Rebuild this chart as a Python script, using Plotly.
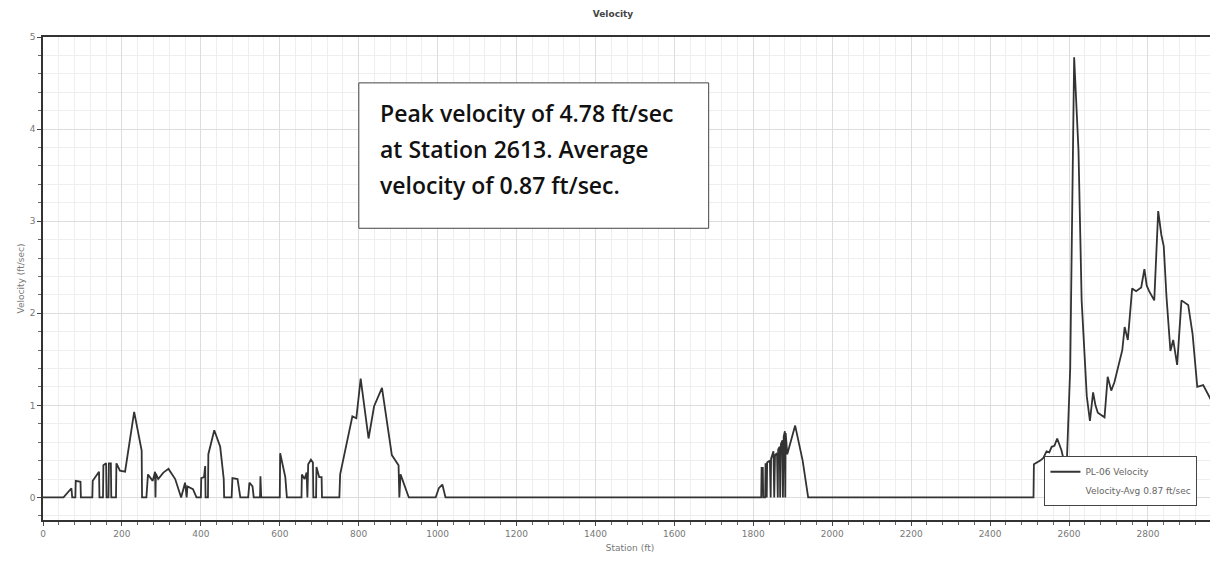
import plotly.graph_objects as go

# Data
station = [0, 52, 72, 74, 82, 83, 95, 96, 125, 126, 142, 143, 152, 153, 160, 161, 166, 167, 172, 173,
           185, 186, 195, 208, 231, 250, 251, 262, 266, 278, 284, 285, 286, 292, 305, 318, 335, 350,
           360, 364, 366, 380, 389, 400, 401, 408, 411, 412, 418, 419, 434, 449, 458, 459, 478, 480,
           493, 500, 520, 523, 531, 534, 550, 551, 553, 600, 601, 614, 618, 655, 656, 663, 668, 670,
           672, 679, 684, 685, 692, 693, 700, 706, 707, 751, 753, 784, 794, 805, 825, 839, 859, 884,
           901, 903, 906, 927, 995, 1003, 1012, 1018, 1020, 1820, 1821, 1824, 1825, 1830, 1831, 1834,
           1835, 1842, 1844, 1845, 1851, 1853, 1855, 1860, 1862, 1863, 1867, 1868, 1870, 1874, 1875,
           1877, 1880, 1881, 1882, 1886, 1888, 1906, 1925, 1939, 2510, 2511, 2527, 2535, 2543, 2550,
           2556, 2563, 2570, 2576, 2581, 2587, 2594, 2603, 2613, 2624, 2632, 2645, 2653, 2661, 2667,
           2673, 2690, 2698, 2707, 2715, 2728, 2735, 2741, 2749, 2760, 2770, 2783, 2791, 2797, 2803,
           2816, 2826, 2834, 2840, 2847, 2857, 2864, 2874, 2885, 2902, 2913, 2925, 2940, 2961, 2972,
           2975]
velocity = [0, 0, 0.10, 0, 0, 0.18, 0.17, 0, 0, 0.18, 0.28, 0, 0, 0.35, 0.37, 0, 0, 0.37, 0.37, 0,
            0, 0.37, 0.29, 0.28, 0.93, 0.51, 0, 0, 0.25, 0.18, 0.28, 0, 0.26, 0.20, 0.27, 0.31, 0.20, 0,
            0.16, 0, 0.12, 0.09, 0, 0, 0.21, 0.22, 0.34, 0, 0, 0.47, 0.73, 0.55, 0.20, 0, 0, 0.21,
            0.20, 0, 0, 0.16, 0.12, 0, 0, 0.23, 0, 0, 0.48, 0.22, 0, 0, 0.25, 0.20, 0.27, 0,
            0.36, 0.41, 0.38, 0, 0, 0.33, 0.22, 0.22, 0, 0, 0.25, 0.88, 0.86, 1.29, 0.64, 0.99, 1.19, 0.46,
            0.35, 0, 0.25, 0, 0, 0.10, 0.14, 0.05, 0, 0, 0.32, 0.32, 0, 0, 0.37, 0,
            0.38, 0.40, 0, 0.42, 0.50, 0, 0.46, 0.48, 0, 0.52, 0.55, 0, 0.58, 0.62, 0,
            0.66, 0.72, 0, 0.70, 0.47, 0.50, 0.78, 0.40, 0, 0, 0.36, 0.40, 0.43, 0.50, 0.49,
            0.55, 0.56, 0.64, 0.58, 0.51, 0.40, 0.33, 1.40, 4.78, 3.77, 2.14, 1.10, 0.83, 1.14, 1.00,
            0.92, 0.87, 1.31, 1.16, 1.25, 1.49, 1.60, 1.85, 1.71, 2.27, 2.24, 2.28, 2.48, 2.30, 2.24,
            2.14, 3.11, 2.85, 2.73, 2.18, 1.59, 1.71, 1.44, 2.14, 2.09, 1.78, 1.20, 1.22, 1.05, 0.74,
            0]
avg_velocity = 0.87
series_name = "PL-06 Velocity"
avg_name = "Velocity-Avg 0.87 ft/sec"
x_ticks = [0, 200, 400, 600, 800, 1000, 1200, 1400, 1600, 1800, 2000, 2200, 2400, 2600, 2800]
y_ticks = [0, 1, 2, 3, 4, 5]
note_lines = ["Peak velocity of 4.78 ft/sec", "at Station 2613. Average", "velocity of 0.87 ft/sec."]

fig = go.Figure()
fig.add_trace(go.Scatter(x=station, y=velocity, mode="lines", name=series_name,
                         line=dict(color="#333333", width=1.8)))
fig.add_trace(go.Scatter(x=[None], y=[None], mode="lines", name=avg_name,
                         line=dict(color="rgba(0,0,0,0)", width=1.5)))

axis_font = dict(family="DejaVu Sans", size=9, color="#777777")
fig.update_layout(
    width=1210, height=545,
    margin=dict(l=35, r=1, t=29, b=33),
    paper_bgcolor="white", plot_bgcolor="white",
    title=dict(text="<b>Velocity</b>", x=0.5, xanchor="center", y=1 - 6 / 545, yanchor="middle",
               yref="container", automargin=False,
               font=dict(family="DejaVu Sans", size=9, color="#444444")),
    showlegend=True,
    legend=dict(x=0.853, y=0.132, xanchor="left", yanchor="top",
                bgcolor="white", bordercolor="#444444", borderwidth=1,
                font=dict(family="DejaVu Sans", size=9, color="#666666"),
                tracegroupgap=0, itemwidth=30),
    xaxis=dict(range=[0, 2975], tickvals=x_ticks, ticks="outside", ticklen=4, tickcolor="#444444",
               showline=True, linecolor="#333333", linewidth=1.5, mirror=True, automargin=False,
               showgrid=True, gridcolor="#dddddd", gridwidth=1, zeroline=False,
               tickfont=axis_font,
               minor=dict(dtick=40, ticks="outside", ticklen=3, tickcolor="#666666",
                          showgrid=True, gridcolor="#eeeeee"),
               title=dict(text="Station (ft)", font=axis_font, standoff=15)),
    yaxis=dict(range=[-0.245, 5.0], tickvals=y_ticks, ticks="outside", ticklen=4, tickcolor="#444444",
               showline=True, linecolor="#333333", linewidth=1.5, automargin=False,
               showgrid=True, gridcolor="#dddddd", gridwidth=1, zeroline=False,
               tickfont=axis_font,
               minor=dict(dtick=0.2, ticks="outside", ticklen=3, tickcolor="#666666",
                          showgrid=True, gridcolor="#eeeeee"),
               title=dict(text="Velocity (ft/sec)", font=axis_font, standoff=4)),
)

fig.add_shape(type="rect", xref="paper", yref="paper", x0=0.269, x1=0.567, y0=0.604, y1=0.905,
              line=dict(color="#444444", width=1), fillcolor="white", layer="above")
for i, line in enumerate(note_lines):
    fig.add_annotation(xref="paper", yref="paper", x=0.285, y=0.843 - i * 0.075,
                       xanchor="left", yanchor="middle", showarrow=False, text=line,
                       font=dict(family="Open Sans", size=23, color="#111111", weight=600))

fig.write_html("out.html")
